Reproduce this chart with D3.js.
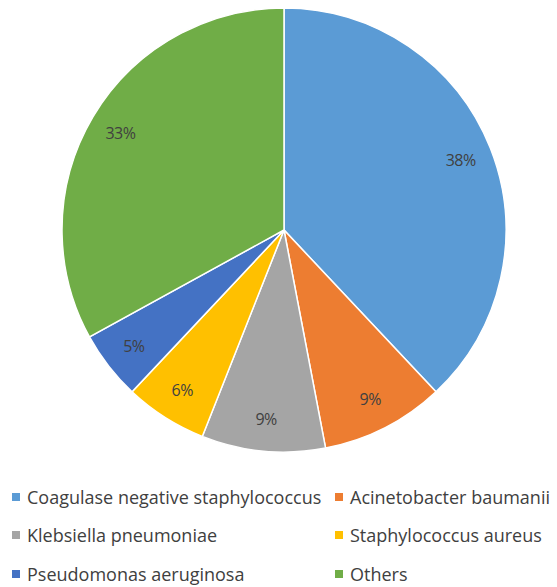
<!DOCTYPE html>
<html><head><meta charset="utf-8">
<script src="https://cdn.jsdelivr.net/npm/d3@7"></script>
<style>body{margin:0;background:#fff}</style>
</head><body>
<svg id="c" width="557" height="587"></svg>
<script>
const categories = ["Coagulase negative staphylococcus","Acinetobacter baumanii","Klebsiella pneumoniae","Staphylococcus aureus","Pseudomonas aeruginosa","Others"];
const values = [38, 9, 9, 6, 5, 33];
const labels = ["38%","9%","9%","6%","5%","33%"];
const colors = ["#5B9BD5","#ED7D31","#A5A5A5","#FFC000","#4472C4","#70AD47"];

const svg = d3.select("#c");
const cx = 284, cy = 230, r = 222;
const g = svg.append("g").attr("transform", `translate(${cx},${cy})`);
const pie = d3.pie().sort(null).value(d => d)(values);
const arc = d3.arc().innerRadius(0).outerRadius(r);
const labelArc = d3.arc().innerRadius(190).outerRadius(190);
g.selectAll("path").data(pie).enter().append("path")
  .attr("d", arc).attr("fill", (d,i) => colors[i])
  .attr("stroke", "#fff").attr("stroke-width", 1.5);
g.selectAll("text").data(pie).enter().append("text")
  .attr("transform", d => `translate(${labelArc.centroid(d)})`)
  .attr("text-anchor", "middle").attr("dominant-baseline", "central")
  .attr("font-family", "Open Sans, sans-serif").attr("font-size", 16)
  .attr("letter-spacing", -0.5)
  .attr("fill", "#404040").text((d,i) => labels[i]);

const legX = [12, 335], legY = [497, 535, 574];
const leg = svg.append("g");
categories.forEach((c, i) => {
  const x = legX[i % 2], y = legY[Math.floor(i / 2)];
  leg.append("rect").attr("x", x).attr("y", y - 4).attr("width", 8).attr("height", 8).attr("fill", colors[i]);
  leg.append("text").attr("x", x + 15).attr("y", y).attr("dominant-baseline", "central")
    .attr("font-family", "Open Sans, sans-serif").attr("font-size", 18).attr("fill", "#404040")
    .text(c);
});
</script>
</body></html>
